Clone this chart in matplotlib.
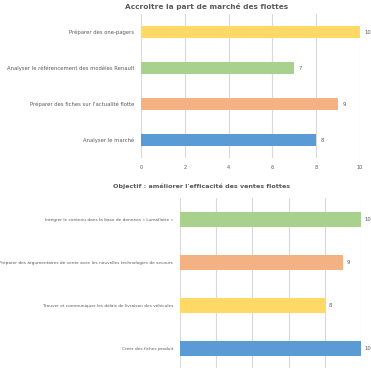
import matplotlib.pyplot as plt

# chart 1 : part de marché
tasks1 = ["Analyser le marché",
          "Préparer des fiches sur l'actualité flotte",
          "Analyser le référencement des modèles Renault",
          "Préparer des one-pagers"]
vals1 = [8, 9, 7, 10]
cols1 = ["#5B9BD5", "#F4B183", "#A9D18E", "#FFD966"]

# chart 2 : efficacité des ventes
tasks2 = ["Créer des fiches produit",
          "Trouver et communiquer les délais de livraison des véhicules",
          "Préparer des argumentaires de vente avec les nouvelles technologies de secours",
          "Intégrer le contenu dans la base de données « Lumaflotte »"]
vals2 = [10, 8, 9, 10]
cols2 = ["#5B9BD5", "#FFD966", "#F4B183", "#A9D18E"]

W, H = 371, 368
fig = plt.figure(figsize=(W / 100, H / 100), dpi=100)
txt = "#595959"
grid = "#D9D9D9"


def px(x0, y0, x1, y1):
    return [x0 / W, 1 - y1 / H, (x1 - x0) / W, (y1 - y0) / H]


def draw(ax, tasks, vals, cols, hbar, fs, show_ticks):
    y = range(len(tasks))
    ax.barh(y, vals, height=hbar, color=cols, zorder=2)
    ax.set_xlim(0, 10)
    ax.set_ylim(-0.5, len(tasks) - 0.5)
    ax.set_xticks(range(0, 11, 2))
    ax.grid(axis="x", color=grid, lw=0.8, zorder=0)
    ax.set_yticks(list(y))
    ax.tick_params(length=0, pad=5, colors=txt)
    ax.tick_params(axis="x", labelsize=3.6)
    ax.set_yticklabels(tasks, fontsize=fs, color=txt)
    if not show_ticks:
        ax.set_xticklabels([])
    for s in ax.spines.values():
        s.set_visible(False)
    for i, v in enumerate(vals):
        ax.text(v + 0.2, i, str(v), va="center", ha="left", fontsize=3.8, color=txt)


ax1 = fig.add_axes(px(141, 14, 360, 158))
draw(ax1, tasks1, vals1, cols1, 0.36, 3.8, True)
fig.text(207 / W, 1 - 6 / H, "Accroitre la part de marché des flottes",
         ha="center", va="center", fontsize=5.3, fontweight="bold", color=txt)

ax2 = fig.add_axes(px(180, 198, 361, 370))
draw(ax2, tasks2, vals2, cols2, 0.33, 3.1, False)
fig.text(202 / W, 1 - 186 / H, "Objectif : améliorer l'efficacité des ventes flottes",
         ha="center", va="center", fontsize=4.6, fontweight="bold", color=txt)

fig.savefig("out.png", dpi=100, facecolor="white")
